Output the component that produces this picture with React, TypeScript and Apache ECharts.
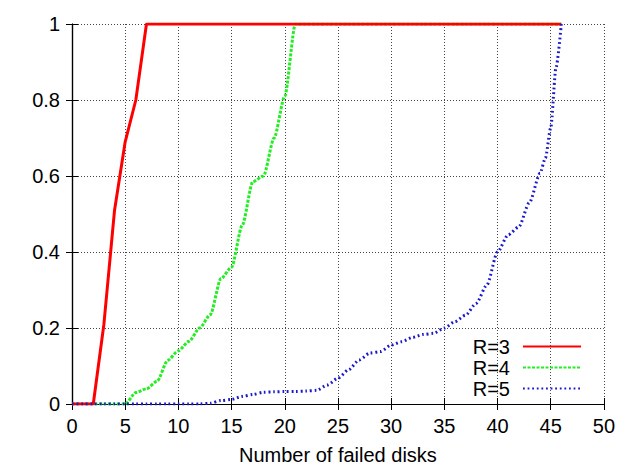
import React, { useEffect, useRef } from "react";
import * as echarts from "echarts";

const xR3 = [0,1,2,3,4,5,6,7,8,9,10,11,12,13,14,15,16,17,18,19,20,21,22,23,24,25,26,27,28,29,30,31,32,33,34,35,36,37,38,39,40,41,42,43,44,45,46];
const yR3 = [0,0,0,0.21,0.51,0.69,0.8,1,1,1,1,1,1,1,1,1,1,1,1,1,1,1,1,1,1,1,1,1,1,1,1,1,1,1,1,1,1,1,1,1,1,1,1,1,1,1,1];

const xR4 = [0,1,2,3,4,5,6,7,8,9,10,11,12,13,14,15,16,17,18,19,20,21,22,23,24,25,26,27,28,29,30,31,32,33,34,35,36,37,38,39,40,41,42,43,44,45,46];
const yR4 = [0,0,0,0,0,0,0.03,0.04,0.06,0.115,0.14,0.165,0.2,0.235,0.33,0.36,0.47,0.585,0.6,0.7,0.81,1,1,1,1,1,1,1,1,1,1,1,1,1,1,1,1,1,1,1,1,1,1,1,1,1,1];

const xR5 = [0,1,2,3,4,5,6,7,8,9,10,11,12,13,14,15,16,17,18,19,20,21,22,23,24,25,26,27,28,29,30,31,32,33,34,35,36,37,38,39,40,41,42,43,44,44.5,45,45.5,46];
const yR5 = [0,0,0,0,0,0,0,0,0,0,0,0,0,0.002,0.009,0.012,0.02,0.025,0.031,0.032,0.033,0.033,0.034,0.036,0.05,0.068,0.09,0.116,0.134,0.138,0.155,0.164,0.175,0.183,0.186,0.2,0.217,0.234,0.265,0.313,0.4,0.445,0.466,0.53,0.607,0.647,0.726,0.885,1];

const seriesNames = ["R=3", "R=4", "R=5"];
const xTicks = { min: 0, max: 50, interval: 5 };
const yTicks = { min: 0, max: 1, interval: 0.2 };
const xTitle = "Number of failed disks";

const FONT = "'Liberation Sans', Arial, sans-serif";

function pairs(xs: number[], ys: number[]) {
  return xs.map((x, i) => [x, ys[i]]);
}

export default function App() {
  const ref = useRef<HTMLDivElement>(null);
  useEffect(() => {
    if (!ref.current) return;
    const chart = echarts.init(ref.current, undefined, { renderer: "svg" });
    const labelStyle = { color: "#000", fontFamily: FONT, fontSize: 20 };
    const axisLine = { show: true, lineStyle: { color: "#000", width: 1.2 } };
    const tick = { show: true, inside: true, length: 6, lineStyle: { color: "#000", width: 1 } };
    const split = { show: true, lineStyle: { color: "#444", width: 1, type: [1, 2] as any } };
    chart.setOption({
      animation: false,
      backgroundColor: "#fff",
      grid: { left: 72, right: 12, top: 24, bottom: 66, containLabel: false },
      legend: {
        orient: "vertical",
        align: "right",
        right: 36,
        top: 336,
        padding: 0,
        itemWidth: 58,
        itemHeight: 14,
        itemGap: 0,
        itemStyle: { opacity: 0 },
        textStyle: { ...labelStyle, lineHeight: 21, padding: [0, 8, 0, 0] },
        data: seriesNames,
      },
      xAxis: [
        {
          type: "value",
          ...xTicks,
          position: "bottom",
          name: xTitle,
          nameLocation: "middle",
          nameGap: 41,
          nameTextStyle: labelStyle,
          axisLine,
          axisTick: tick,
          axisLabel: { ...labelStyle, margin: 12 },
          splitLine: split,
        },
        {
          type: "value",
          ...xTicks,
          position: "top",
          axisLine,
          axisTick: tick,
          axisLabel: { show: false },
          splitLine: { show: false },
        },
      ],
      yAxis: [
        {
          type: "value",
          ...yTicks,
          position: "left",
          axisLine,
          axisTick: tick,
          axisLabel: { ...labelStyle, margin: 12 },
          splitLine: split,
        },
        {
          type: "value",
          ...yTicks,
          position: "right",
          axisLine,
          axisTick: tick,
          axisLabel: { show: false },
          splitLine: { show: false },
        },
      ],
      series: [
        {
          name: seriesNames[0],
          type: "line",
          data: pairs(xR3, yR3),
          showSymbol: false,
          symbol: "none",
          lineStyle: { color: "#ff0000", width: 3, type: "solid" },
          itemStyle: { color: "#ff0000" },
          z: 3,
        },
        {
          name: seriesNames[1],
          type: "line",
          data: pairs(xR4, yR4),
          showSymbol: false,
          symbol: "none",
          smooth: 0.25,
          smoothMonotone: "x",
          lineStyle: { color: "#22ee22", width: 3, type: [3, 1.5] },
          itemStyle: { color: "#22ee22" },
          z: 2,
        },
        {
          name: seriesNames[2],
          type: "line",
          data: pairs(xR5, yR5),
          showSymbol: false,
          symbol: "none",
          smooth: 0.25,
          smoothMonotone: "x",
          lineStyle: { color: "#1a1acc", width: 3, type: [1.8, 2.8] },
          itemStyle: { color: "#1a1acc" },
          z: 4,
        },
      ],
    });
    return () => chart.dispose();
  }, []);
  return (
    <div
      ref={ref}
      style={{ position: "fixed", left: 0, top: 0, width: 618, height: 470, background: "#fff" }}
    />
  );
}
